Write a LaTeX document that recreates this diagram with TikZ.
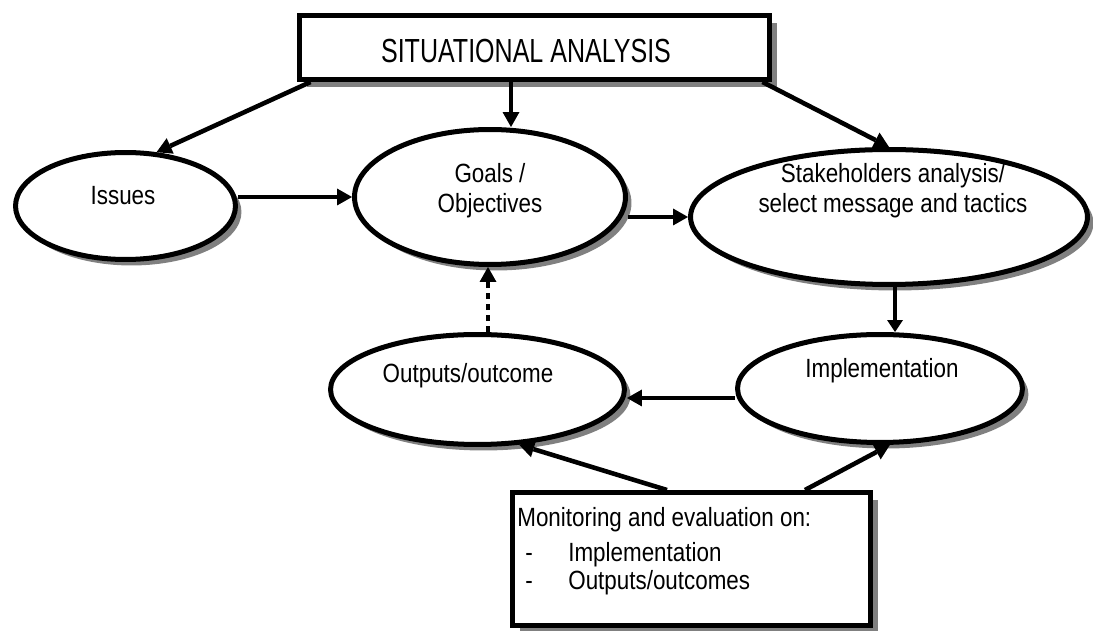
\documentclass[tikz,border=0pt]{standalone}
\usepackage{fontspec}
\setmainfont{Liberation Sans}[FakeStretch=0.85]
\newfontfamily\headfont{Liberation Sans}[FakeStretch=0.75]
\usetikzlibrary{arrows.meta,shadows,shapes.geometric}
\definecolor{shadowgrey}{RGB}{128,128,128}

\begin{document}
\begin{tikzpicture}[x=0.02cm,y=-0.02cm,
  bubble/.style={ellipse, draw=black, line width=2.85pt, fill=white, inner sep=0pt,
    drop shadow={shadow xshift=0.12cm, shadow yshift=-0.12cm, fill=shadowgrey, opacity=1}},
  panel/.style={rectangle, draw=black, line width=2.85pt, fill=white, inner sep=0pt,
    drop shadow={shadow xshift=0.15cm, shadow yshift=-0.15cm, fill=shadowgrey, opacity=1}},
  txt/.style={inner sep=0pt, font=\fontsize{15}{17}\selectfont, anchor=base},
  flow/.style={-{Triangle[length=0.3cm,width=0.34cm,line width=0pt]}, line width=2.6pt},
  thinflow/.style={-{Triangle[length=0.24cm,width=0.32cm,line width=0pt]}, line width=2pt},
  dotflow/.style={flow, dash pattern=on 0.12cm off 0.1cm},
]
% page area
\path[fill=white, use as bounding box] (0,0) rectangle (1093,631);

% boxes
\node[panel, minimum width=9.4cm, minimum height=1.28cm] (top) at (534.5,47.5) {};
\node[panel, minimum width=7.16cm, minimum height=2.66cm] (mon) at (691.5,559) {};

% ellipses
\node[bubble, minimum width=4.4cm,  minimum height=2.14cm] (issues)  at (125.5,206) {};
\node[bubble, minimum width=5.42cm, minimum height=2.7cm]  (goals)   at (490,197) {};
\node[bubble, minimum width=7.94cm, minimum height=2.7cm]  (stake)   at (889,217) {};
\node[bubble, minimum width=5.7cm,  minimum height=2.16cm] (impl)    at (880,388.5) {};
\node[bubble, minimum width=5.88cm, minimum height=2.2cm]  (outputs) at (477.5,389.5) {};

% texts
\node[inner sep=0pt, anchor=base, font=\headfont\fontsize{19}{22}\selectfont] (topText) at (526,63) {SITUATIONAL ANALYSIS};
\node[txt] (issuesText) at (123,205) {Issues};
\node[txt] (goalsText) at (490,183) {\begin{tabular}[t]{@{}c@{}}Goals /\\Objectives\end{tabular}};
\node[txt] (stakeText) at (893,183) {\begin{tabular}[t]{@{}c@{}}Stakeholders analysis/\\select message and tactics\end{tabular}};
\node[txt] (implText) at (882,378) {Implementation};
\node[txt] (outputsText) at (468,383) {Outputs/outcome};
\node[txt, anchor=base west] (monHead) at (517,527) {Monitoring and evaluation on:};
\node[txt, anchor=base west] (dashA) at (525,562) {-};
\node[txt, anchor=base west] (monA) at (568,562) {Implementation};
\node[txt, anchor=base west] (dashB) at (525,590) {-};
\node[txt, anchor=base west] (monB) at (568,590) {Outputs/outcomes};

% connectors
\draw[flow] ([xshift=0.27cm]top.south west) -- (issues.60);
\draw[flow] ([xshift=-0.47cm]top.south) -- ([xshift=-0.47cm]top.south |- goals.north);
\draw[flow] ([xshift=-0.19cm]top.south east) -- (stake.north);
\draw[flow] (issues.east |- goals.west) -- (goals.west);
\draw[flow] (goals.east |- stake.west) -- (stake.west);
\draw[thinflow] ([xshift=0.12cm]stake.south) -- ([xshift=0.12cm]stake.south |- impl.north);
\draw[flow] ([yshift=-0.19cm]impl.west) -- ([yshift=-0.19cm]impl.west -| outputs.east);
\draw[dotflow] ([xshift=0.21cm]outputs.north) -- ([xshift=0.21cm]outputs.north |- goals.south);
\draw[flow] ([xshift=-0.49cm]mon.north) -- (outputs.-53);
\draw[flow] ([xshift=2.27cm]mon.north) -- (impl.-80);
\end{tikzpicture}
\end{document}
